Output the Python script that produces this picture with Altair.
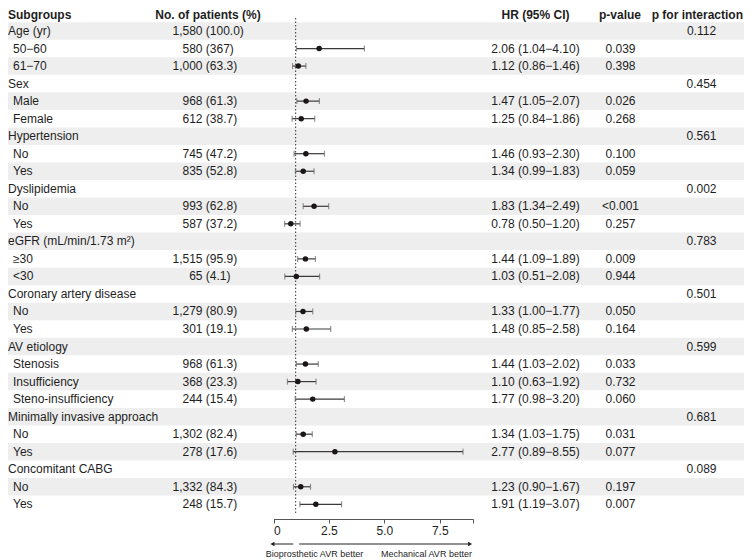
import altair as alt
import pandas as pd

subgroups = ["Age (yr)", "50\u221260", "61\u221270", "Sex", "Male", "Female",
             "Hypertension", "No", "Yes", "Dyslipidemia", "No", "Yes",
             "eGFR (mL/min/1.73 m\u00b2)", "\u226530", "<30",
             "Coronary artery disease", "No", "Yes",
             "AV etiology", "Stenosis", "Insufficiency", "Steno-insufficiency",
             "Minimally invasive approach", "No", "Yes",
             "Concomitant CABG", "No", "Yes"]
is_category = [1, 0, 0, 1, 0, 0, 1, 0, 0, 1, 0, 0, 1, 0, 0, 1, 0, 0, 1, 0, 0, 0, 1, 0, 0, 1, 0, 0]
n_patients = ["1,580", "580", "1,000", "", "968", "612", "", "745", "835", "", "993", "587",
              "", "1,515", "65", "", "1,279", "301", "", "968", "368", "244", "", "1,302", "278",
              "", "1,332", "248"]
pct = ["(100.0)", "(367)", "(63.3)", "", "(61.3)", "(38.7)", "", "(47.2)", "(52.8)", "", "(62.8)",
       "(37.2)", "", "(95.9)", "(4.1)", "", "(80.9)", "(19.1)", "", "(61.3)", "(23.3)", "(15.4)",
       "", "(82.4)", "(17.6)", "", "(84.3)", "(15.7)"]
hr = [None, 2.06, 1.12, None, 1.47, 1.25, None, 1.46, 1.34, None, 1.83, 0.78, None, 1.44, 1.03,
      None, 1.33, 1.48, None, 1.44, 1.10, 1.77, None, 1.34, 2.77, None, 1.23, 1.91]
lo = [None, 1.04, 0.86, None, 1.05, 0.84, None, 0.93, 0.99, None, 1.34, 0.50, None, 1.09, 0.51,
      None, 1.00, 0.85, None, 1.03, 0.63, 0.98, None, 1.03, 0.89, None, 0.90, 1.19]
hi = [None, 4.10, 1.46, None, 2.07, 1.86, None, 2.30, 1.83, None, 2.49, 1.20, None, 1.89, 2.08,
      None, 1.77, 2.58, None, 2.02, 1.92, 3.20, None, 1.75, 8.55, None, 1.67, 3.07]
p_value = ["", "0.039", "0.398", "", "0.026", "0.268", "", "0.100", "0.059", "", "<0.001", "0.257",
           "", "0.009", "0.944", "", "0.050", "0.164", "", "0.033", "0.732", "0.060", "", "0.031",
           "0.077", "", "0.197", "0.007"]
p_interaction = ["0.112", "", "", "0.454", "", "", "0.561", "", "", "0.002", "", "", "0.783", "", "",
                 "0.501", "", "", "0.599", "", "", "", "0.681", "", "", "0.089", "", ""]
headers = ["Subgroups", "No. of patients (%)", "HR (95% CI)", "p-value", "p for interaction"]
tick_values = [0, 2.5, 5, 7.5, 9]
arrow_labels = ["Bioprosthetic AVR better", "Mechanical AVR better"]

FONT = "Liberation Sans"
TXT = "#1e1e1e"
W, H = 736, 511

rows = []
for i, s in enumerate(subgroups):
    hr_txt = "" if hr[i] is None else f"{hr[i]:.2f} ({lo[i]:.2f}\u2212{hi[i]:.2f})"
    rows.append(dict(row=i, label=s, cat=is_category[i], n=n_patients[i], pct=pct[i],
                     hr=hr[i], lo=lo[i], hi=hi[i], hrtxt=hr_txt, p=p_value[i],
                     pint=p_interaction[i], y0=i - 0.5, y1=i + 0.5, band=(i % 2 == 0)))
df = pd.DataFrame(rows)
est = df[df["hr"].notna()]
bands = df[df["band"]]

yscale = alt.Scale(domain=[0, 27], range=[23, 496.3], nice=False, zero=False)
xscale = alt.Scale(domain=[0, 9], range=[265.5, 465], nice=False, zero=False)
Y = lambda f: alt.Y(f, scale=yscale, axis=None)
X = lambda f: alt.X(f, scale=xscale, title=None,
                    axis=alt.Axis(values=tick_values, grid=False, tickSize=4, labelPadding=2,
                                  labelExpr="datum.value == 0 ? '0' : (datum.value == 9 ? '' : format(datum.value, '.1f'))"))

band_layer = alt.Chart(bands).mark_rect(color="#EEEEEE").encode(
    y=Y("y0:Q"), y2="y1:Q", x=alt.value(0), x2=alt.value(W))


def text(data, field, x, align="left", **kw):
    return alt.Chart(data).mark_text(align=align, baseline="middle", font=FONT, fontSize=12,
                                     color=TXT, **kw).encode(
        y=Y("row:Q"), x=alt.value(x), text=f"{field}:N")


cat_layer = text(df[df["cat"] == 1], "label", 0)
item_layer = text(df[df["cat"] == 0], "label", 5)
n_layer = text(df, "n", 194.5, align="right")
pct_layer = text(df, "pct", 197.8)
hr_layer = text(df, "hrtxt", 527.5, align="center")
p_layer = text(df, "p", 612.5, align="center")
pint_layer = text(df, "pint", 693.5, align="center")

hdr = pd.DataFrame({"h": headers, "x": [0, 200, 527.5, 612, 735],
                    "al": ["left", "center", "center", "center", "right"]})
header_layers = []
for _, r in hdr.iterrows():
    header_layers.append(
        alt.Chart(pd.DataFrame({"h": [r["h"]]})).mark_text(
            align=r["al"], baseline="middle", font=FONT, fontSize=12, fontWeight="bold", color=TXT
        ).encode(x=alt.value(r["x"]), y=alt.value(7), text="h:N"))

ref_layer = alt.Chart(pd.DataFrame({"v": [1]})).mark_rule(
    color="#333333", strokeDash=[1.5, 2], strokeWidth=1).encode(
    x=X("v:Q"), y=alt.value(10), y2=alt.value(507))

ci_layer = alt.Chart(est).mark_rule(color="#3a3a3a", strokeWidth=1.2).encode(
    x=X("lo:Q"), x2="hi:Q", y=Y("row:Q"))
cap_lo = alt.Chart(est).mark_tick(orient="vertical", color="#666666", size=6, thickness=1.2).encode(
    x=X("lo:Q"), y=Y("row:Q"))
cap_hi = alt.Chart(est).mark_tick(orient="vertical", color="#666666", size=6, thickness=1.2).encode(
    x=X("hi:Q"), y=Y("row:Q"))
pt_layer = alt.Chart(est).mark_circle(color="#1b1515", size=30, opacity=1).encode(
    x=X("hr:Q"), y=Y("row:Q"))

arrows = pd.DataFrame({"a": [0.89, 1.16], "b": [0.0, 8.85]})
arrow_lines = alt.Chart(arrows).mark_rule(color="#222222", strokeWidth=1).encode(
    x=X("a:Q"), x2="b:Q", y=alt.value(536))
heads = pd.DataFrame({"x": [-0.05, 8.87], "shape": ["triangle-left", "triangle-right"]})
head_layer = alt.Chart(heads).mark_point(filled=True, color="#222222", size=22, opacity=1).encode(
    x=X("x:Q"), y=alt.value(536),
    shape=alt.Shape("shape:N", scale=None, legend=None))
lab = pd.DataFrame({"t": arrow_labels, "x": [1.85, 6.9]})
arrow_text = alt.Chart(lab).mark_text(font=FONT, fontSize=9, color=TXT, baseline="middle").encode(
    x=X("x:Q"), y=alt.value(545.5), text="t:N")

chart = alt.layer(
    band_layer, ref_layer, ci_layer, cap_lo, cap_hi, pt_layer,
    cat_layer, item_layer, n_layer, pct_layer, hr_layer, p_layer, pint_layer,
    *header_layers, arrow_lines, head_layer, arrow_text
).properties(
    width=W, height=H, autosize=alt.AutoSizeParams(type="none"),
    padding={"left": 0, "top": 0, "right": 0, "bottom": 41}
).configure_view(stroke=None).configure_axis(
    domainColor="#555555", tickColor="#555555", labelColor=TXT, labelFont=FONT, labelFontSize=12
)

chart.save("out.html", embed_options={"renderer": "svg", "actions": False})
